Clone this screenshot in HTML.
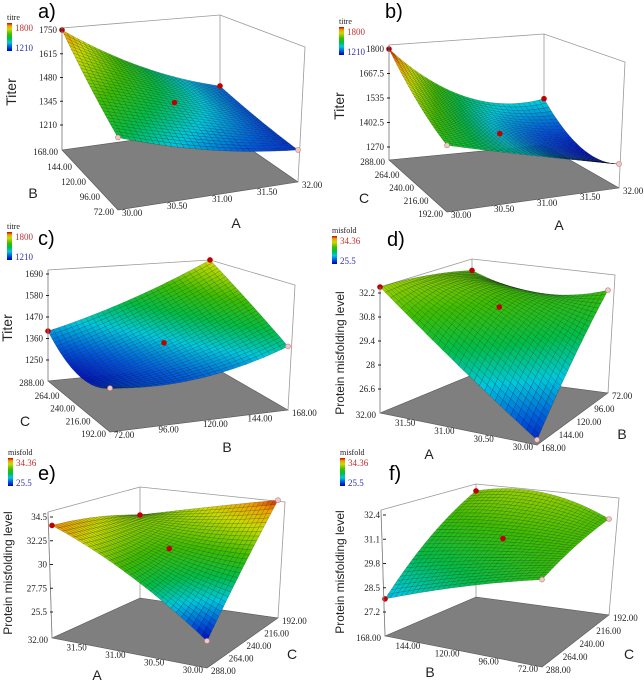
<!DOCTYPE html>
<html><head><meta charset="utf-8"><style>
html,body{margin:0;padding:0;background:#fff;}
svg{display:block;}
text{font-family:"Liberation Serif",serif;}
.t{font-family:"Liberation Sans",sans-serif;}
</style></head><body>
<svg id="fig" width="644" height="685" viewBox="0 0 644 685" xmlns="http://www.w3.org/2000/svg">
<rect width="644" height="685" fill="#fff"/>
</svg>
<script>
// ---- data ----
const titerAB = [[1480,1330,1250],[1600,1437,1270],[1750,1480,1307]];
const titerAC = [[1560,1440,1330],[1650,1430,1300],[1800,1500,1450]];
const titerBC = [[1367,1360,1468],[1300,1420,1580],[1398,1516,1680]];
const misAB = [[25.5,28.6,31.2],[28.9,31.0,30.5],[32.55,32.1,31.3]];
const misAC = [[25.6,30.1,34.2],[30.4,30.8,32.6],[33.7,32.6,30.9]];
const misBC = [[30.6,31.0,31.06],[29.4,30.75,32.0],[27.9,30.2,31.6]];
const zTicksA = [1210,1345,1480,1615,1750];
const zTicksB = [1270,1402.5,1535,1667.5,1800];
const zTicksC = [1250,1360,1470,1580,1690];
const zTicksD = [26.6,28,29.4,30.8,32.2];
const zTicksE = [25.5,27.75,30,32.25,34.5];
const zTicksF = [27.2,28.5,29.8,31.1,32.4];
const ticksA = ["30.00","30.50","31.00","31.50","32.00"];
const ticksArev = ["32.00","31.50","31.00","30.50","30.00"];
const ticksB = ["72.00","96.00","120.00","144.00","168.00"];
const ticksBrev = ["168.00","144.00","120.00","96.00","72.00"];
const ticksCrev = ["288.00","264.00","240.00","216.00","192.00"];

const panels = [
 {id:'a',grid:titerAB,zt:zTicksA,lf:ticksBrev,fr:ticksA,title:'Titer',lfT:'B',frT:'A',cb:'titre',cbHi:'1800',cbLo:'1210',
  L:[62,150],F:[118,210],R:[298,182],K:[220,128],tL:[62,28],tK:[220,15],tR:[305,47],z0:1210,h0:25,z1:1750,h1:120,c0:1200,c1:1800,
  lab:[38,18],ttl:[16,92],lfP:[33,198],frP:[236,228],bar:[7,23]},
 {id:'b',grid:titerAC,zt:zTicksB,lf:ticksCrev,fr:ticksA,title:'Titer',lfT:'C',frT:'A',cb:'titre',cbHi:'1800',cbLo:'1210',
  L:[389,160],F:[447,212],R:[619,188],K:[544,145],tL:[389,45],tK:[544,34],tR:[625,62],z0:1270,h0:13,z1:1800,h1:111,c0:1280,c1:1800,
  lab:[385,18],ttl:[344,106],lfP:[364,203],frP:[559,230],bar:[339,27]},
 {id:'c',grid:titerBC,zt:zTicksC,lf:ticksCrev,fr:ticksB,title:'Titer',lfT:'C',frT:'B',cb:'titre',cbHi:'1800',cbLo:'1210',
  L:[48,381],F:[110,432],R:[288,410],K:[210,365],tL:[48,270],tK:[210,260],tR:[295,285],z0:1250,h0:21,z1:1690,h1:107,c0:1280,c1:1780,
  lab:[38,245],ttl:[12,328],lfP:[25,426],frP:[227,452],bar:[7,232]},
 {id:'d',grid:misAB,zt:zTicksD,lf:ticksArev,fr:ticksBrev,title:'Protein misfolding level',lfT:'A',frT:'B',cb:'misfold',cbHi:'34.36',cbLo:'25.5',
  L:[380,413],F:[537,445],R:[608,393],K:[472,375],tL:[380,287],tK:[472,259],tR:[615,275],z0:26.6,h0:24,z1:32.2,h1:120,c0:24.8,c1:35.5,
  lab:[387,246],ttl:[344,353],lfP:[429,459],frP:[622,439],bar:[332,236]},
 {id:'e',grid:misAC,zt:zTicksE,lf:ticksArev,fr:ticksCrev,title:'Protein misfolding level',lfT:'A',frT:'C',cb:'misfold',cbHi:'34.36',cbLo:'25.5',
  L:[52,638],F:[207,668],R:[278,618],K:[140,598],tL:[48,512],tK:[140,487],tR:[285,502],z0:25.5,h0:26,z1:34.5,h1:121,c0:25.5,c1:34.4,
  lab:[38,480],ttl:[12,573],lfP:[97,680],frP:[292,659],bar:[8,458]},
 {id:'f',grid:misBC,zt:zTicksF,lf:ticksBrev,fr:ticksCrev,title:'Protein misfolding level',lfT:'B',frT:'C',cb:'misfold',cbHi:'34.36',cbLo:'25.5',
  L:[385,636],F:[542,667],R:[609,615],K:[476,597],tL:[381,510],tK:[476,484],tR:[619,498],z0:27.2,h0:24,z1:32.4,h1:121,c0:25.5,c1:34.6,
  lab:[389,480],ttl:[344,572],lfP:[430,677],frP:[629,659],bar:[340,458]}
];

const NS='http://www.w3.org/2000/svg';
const svg=document.getElementById('fig');
function el(tag,parent,attrs){const e=document.createElementNS(NS,tag);for(const k in attrs)e.setAttribute(k,attrs[k]);parent.appendChild(e);return e;}
const stops=[[0,0,0,180],[0.15,0,90,220],[0.3,0,200,220],[0.45,0,190,70],[0.6,60,190,0],[0.78,200,220,0],[0.9,240,160,0],[1,200,0,0]];
function cmap(t){t=Math.max(0,Math.min(1,t));for(let i=1;i<stops.length;i++){if(t<=stops[i][0]){const a=stops[i-1],b=stops[i];const f=(t-a[0])/(b[0]-a[0]);return 'rgb('+[1,2,3].map(k=>Math.round(a[k]+(b[k]-a[k])*f)).join(',')+')';}}return 'rgb(200,0,0)';}
function lag(t){return [2*(t-.5)*(t-1),-4*t*(t-1),2*t*(t-.5)];}
function zval(g,u,v){const a=lag(u),b=lag(v);let s=0;for(let j=0;j<3;j++)for(let i=0;i<3;i++)s+=g[j][i]*a[i]*b[j];return s;}
function floorPt(p,u,v){return [p.F[0]*(1-u)*(1-v)+p.R[0]*u*(1-v)+p.L[0]*(1-u)*v+p.K[0]*u*v,
  p.F[1]*(1-u)*(1-v)+p.R[1]*u*(1-v)+p.L[1]*(1-u)*v+p.K[1]*u*v];}
function hOf(p,z){return p.h0+(z-p.z0)*(p.h1-p.h0)/(p.z1-p.z0);}
function surfPt(p,u,v){const f=floorPt(p,u,v);return [f[0],f[1]-hOf(p,zval(p.grid,u,v))];}
const pts=a=>a.map(q=>q[0].toFixed(1)+','+q[1].toFixed(1)).join(' ');

panels.forEach(p=>{
  const g=el('g',svg,{});
  
  
  const box=el('polyline',g,{points:pts([p.L,p.tL,p.tK,p.tR,p.R]),fill:'none',stroke:'#999','stroke-width':0.8});
  
  
  const kl=el('line',g,{x1:p.K[0],y1:p.K[1],x2:p.tK[0],y2:p.tK[1],stroke:'#999','stroke-width':0.8});
  
  
  const fl=el('polygon',g,{points:pts([p.L,p.F,p.R,p.K]),fill:'#7f7f7f',stroke:'#555','stroke-width':0.6});
  
  
  const N=30;const cells=[];
  for(let j=0;j<N;j++)for(let i=0;i<N;i++)cells.push([i,j]);
  cells.sort((a,b)=>(b[0]+b[1])-(a[0]+a[1]));
  const sg=el('g',g,{});
  
  
  cells.forEach(([i,j])=>{
    const u0=i/N,u1=(i+1)/N,v0=j/N,v1=(j+1)/N;
    const z=zval(p.grid,(u0+u1)/2,(v0+v1)/2);
    const c=el('polygon',sg,{points:pts([surfPt(p,u0,v0),surfPt(p,u1,v0),surfPt(p,u1,v1),surfPt(p,u0,v1)]),fill:cmap((z-p.c0)/(p.c1-p.c0)),stroke:'rgba(0,0,0,0.38)','stroke-width':0.4});
    
    
  });
  [[0,1],[1,1],[0.5,0.5]].forEach(([u,v])=>{
    const s=surfPt(p,u,v);
    const d=el('circle',g,{cx:s[0],cy:s[1],r:2.8,fill:'#c00000'});
    
    
  });
  [[0,0],[1,0]].forEach(([u,v])=>{
    const s=surfPt(p,u,v);
    const d=el('circle',g,{cx:s[0],cy:s[1],r:2.5,fill:'#f0c8c8',stroke:'#c08080','stroke-width':0.6});
    
    
  });
  const ax=el('line',g,{x1:p.L[0],y1:p.L[1],x2:p.tL[0],y2:p.tL[1],stroke:'#888','stroke-width':0.8});
  
  
  p.zt.forEach(v=>{
    const y=p.L[1]-hOf(p,v);
    const tk=el('line',g,{x1:p.L[0]-2,y1:y,x2:p.L[0]+1,y2:y,stroke:'#222','stroke-width':1});
    
    
    const t=el('text',g,{x:p.L[0]-5,y:y+3,'font-size':9,'text-anchor':'end',fill:'#222'});
    t.textContent=String(v);
    
    
  });
  p.lf.forEach((s,k)=>{
    const f=k/(p.lf.length-1);
    const x=p.L[0]+(p.F[0]-p.L[0])*f,y=p.L[1]+(p.F[1]-p.L[1])*f;
    const t=el('text',g,{x:x-4,y:y+5,'font-size':9,'text-anchor':'end',fill:'#222'});
    t.textContent=s;
    
    
  });
  p.fr.forEach((s,k)=>{
    const f=k/(p.fr.length-1);
    const x=p.F[0]+(p.R[0]-p.F[0])*f,y=p.F[1]+(p.R[1]-p.F[1])*f;
    const t=el('text',g,{x:x+4,y:y+6,'font-size':9,'text-anchor':'start',fill:'#222'});
    t.textContent=s;
    
    
  });
  const zt=el('text',g,{x:p.ttl[0],y:p.ttl[1],'font-size':p.title.length>6?12:14,'text-anchor':'middle',fill:'#222',class:'t',transform:'rotate(-90 '+p.ttl[0]+' '+p.ttl[1]+')'});
  zt.textContent=p.title;
  
  
  const t1=el('text',g,{x:p.lfP[0],y:p.lfP[1],'font-size':14,'text-anchor':'middle',fill:'#222',class:'t'});
  t1.textContent=p.lfT;
  
  
  const t2=el('text',g,{x:p.frP[0],y:p.frP[1],'font-size':14,'text-anchor':'middle',fill:'#222',class:'t'});
  t2.textContent=p.frT;
  
  
  const lb=el('text',g,{x:p.lab[0],y:p.lab[1],'font-size':20,fill:'#000',class:'t'});
  lb.textContent=p.id+')';
  
  
  const gid='cbg'+p.id;
  const defs=el('defs',g,{});
  const lg=el('linearGradient',defs,{id:gid,x1:0,y1:1,x2:0,y2:0});
  stops.forEach(s=>{el('stop',lg,{offset:s[0],'stop-color':'rgb('+s[1]+','+s[2]+','+s[3]+')'});});
  const bx=p.bar[0],by=p.bar[1];
  const cb=el('rect',g,{x:bx,y:by,width:5,height:28,fill:'url(#'+gid+')'});
  
  
  const cn=el('text',g,{x:bx,y:by-3,'font-size':8,fill:'#222'});
  cn.textContent=p.cb;
  
  
  const ch=el('text',g,{x:bx+8,y:by+8,'font-size':9,fill:'#c03030'});
  ch.textContent=p.cbHi;
  
  
  const cl=el('text',g,{x:bx+8,y:by+28,'font-size':9,fill:'#3030b0'});
  cl.textContent=p.cbLo;
  
  
});
</script>
</body></html>
